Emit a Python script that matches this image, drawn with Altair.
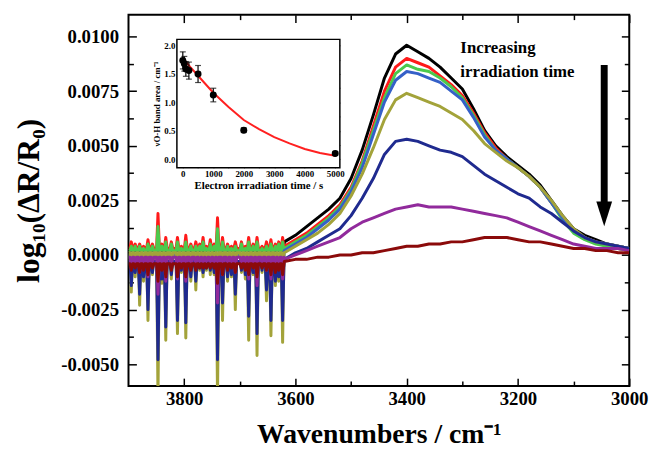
import altair as alt
import pandas as pd

# ---------------- data ----------------
series_names = ["t0", "t1", "t2", "t3", "t4", "t5", "t6", "t7"]
series_colors = ["#000000", "#ff1a1a", "#4cc94c", "#3560c8", "#a3a33a", "#1f2a8f", "#912a9c", "#8b0a0a"]

grid_wn = [3620, 3600, 3580, 3560, 3540, 3520, 3500, 3480, 3460, 3440, 3420, 3400,
           3380, 3360, 3340, 3320, 3300, 3280, 3260, 3240, 3220, 3200, 3180, 3160,
           3140, 3120, 3100, 3080, 3060, 3040, 3020, 3000]

black_band = [0.0006, 0.0009, 0.0013, 0.0017, 0.0021, 0.0026, 0.0035, 0.0048, 0.0064, 0.0081, 0.0092, 0.0096,
              0.0093, 0.0090, 0.0086, 0.0081, 0.0076, 0.0067, 0.0057, 0.0050, 0.0045, 0.0041, 0.0037, 0.0032,
              0.0025, 0.0018, 0.0012, 0.0009, 0.0007, 0.0005, 0.0004, 0.0003]
red_band = [0.0004, 0.0007, 0.0010, 0.0014, 0.0018, 0.0023, 0.0031, 0.0043, 0.0059, 0.0075, 0.0086, 0.0090,
            0.0088, 0.0086, 0.0082, 0.0078, 0.0073, 0.0065, 0.0056, 0.0049, 0.0044, 0.0040, 0.0036, 0.0031,
            0.0024, 0.0017, 0.0011, 0.0008, 0.0006, 0.0004, 0.0003, 0.0002]
green_band = [0.0003, 0.0006, 0.0009, 0.0013, 0.0017, 0.0022, 0.0030, 0.0042, 0.0057, 0.0072, 0.0083, 0.0087,
              0.0085, 0.0084, 0.0081, 0.0077, 0.0072, 0.0064, 0.0055, 0.0048, 0.0044, 0.0040, 0.0036, 0.0031,
              0.0024, 0.0016, 0.0010, 0.0007, 0.0005, 0.0004, 0.0003, 0.0002]
blue_band = [0.0002, 0.0005, 0.0008, 0.0012, 0.0016, 0.0021, 0.0029, 0.0040, 0.0055, 0.0070, 0.0080, 0.0084,
             0.0083, 0.0081, 0.0079, 0.0075, 0.0071, 0.0063, 0.0054, 0.0048, 0.0044, 0.0040, 0.0036, 0.0031,
             0.0024, 0.0017, 0.0011, 0.0008, 0.0006, 0.0005, 0.0004, 0.0003]
olive_band = [0.0001, 0.0004, 0.0007, 0.0010, 0.0014, 0.0019, 0.0027, 0.0037, 0.0049, 0.0062, 0.0071, 0.0074,
              0.0072, 0.0070, 0.0068, 0.0065, 0.0062, 0.0057, 0.0051, 0.0047, 0.0043, 0.0040, 0.0036, 0.0031,
              0.0025, 0.0018, 0.0012, 0.0008, 0.0006, 0.0005, 0.0004, 0.0003]
navy_band = [-0.0002, 0.0001, 0.0003, 0.0006, 0.0009, 0.0012, 0.0018, 0.0026, 0.0035, 0.0046, 0.0052, 0.0053,
             0.0052, 0.0050, 0.0048, 0.0047, 0.0045, 0.0041, 0.0037, 0.0034, 0.0031, 0.0028, 0.0026, 0.0022,
             0.0019, 0.0015, 0.0011, 0.0008, 0.0006, 0.0005, 0.0004, 0.0003]
purple_band = [-0.0002, 0.0000, 0.0002, 0.0004, 0.0006, 0.0008, 0.0012, 0.0015, 0.0017, 0.0019, 0.0021, 0.0022,
               0.0023, 0.0022, 0.0022, 0.0022, 0.0021, 0.0020, 0.0019, 0.0018, 0.0017, 0.0015, 0.0013, 0.0011,
               0.0009, 0.0007, 0.0005, 0.0004, 0.0003, 0.0003, 0.0003, 0.0002]
darkred_band = [-0.0003, -0.0002, -0.0002, -0.0001, -0.0001, 0.0000, 0.0000, 0.0001, 0.0001, 0.0002, 0.0003, 0.0004,
                0.0004, 0.0005, 0.0005, 0.0006, 0.0006, 0.0007, 0.0008, 0.0008, 0.0008, 0.0007, 0.0006, 0.0006,
                0.0005, 0.0004, 0.0003, 0.0003, 0.0002, 0.0002, 0.0001, 0.0001]

# water-vapour line region (3900-3620 cm-1): level between lines and value at each line
noise_start_wn = 3900
noise_base = [0.0002, 0.0003, 0.0002, 0.0000, 0.0001, -0.0003, -0.0001, -0.0004]

# strong lines
spike_wn = [3895, 3880, 3865, 3847, 3833, 3812, 3797, 3779, 3766, 3753, 3740, 3731, 3708, 3684, 3669, 3652, 3644, 3623]
black_spikes = [0.0003, 0.0003, 0.0003, 0.0004, 0.0003, 0.0003, 0.0003, 0.0003, 0.0003,
                0.0003, 0.0004, 0.0003, 0.0003, 0.0003, 0.0003, 0.0003, 0.0003, 0.0003]
red_spikes = [0.0006, 0.0005, 0.0007, 0.0019, 0.0008, 0.0008, 0.0009, 0.0006, 0.0008,
              0.0007, 0.0017, 0.0008, 0.0006, 0.0008, 0.0008, 0.0006, 0.0007, 0.0008]
green_spikes = [0.0004, 0.0004, 0.0005, 0.0013, 0.0006, 0.0006, 0.0006, 0.0004, 0.0006,
                0.0005, 0.0012, 0.0006, 0.0004, 0.0006, 0.0006, 0.0004, 0.0005, 0.0006]
blue_spikes = [-0.0010, -0.0013, -0.0018, -0.0036, -0.0025, -0.0022, -0.0023, -0.0009, -0.0006,
               -0.0005, -0.0036, -0.0016, -0.0013, -0.0021, -0.0027, -0.0012, -0.0022, -0.0022]
olive_spikes = [-0.0017, -0.0023, -0.0030, -0.0065, -0.0039, -0.0036, -0.0038, -0.0016, -0.0010,
                -0.0009, -0.0065, -0.0030, -0.0025, -0.0039, -0.0046, -0.0021, -0.0037, -0.0040]
navy_spikes = [-0.0014, -0.0018, -0.0025, -0.0048, -0.0033, -0.0030, -0.0031, -0.0012, -0.0008,
               -0.0007, -0.0048, -0.0022, -0.0018, -0.0028, -0.0036, -0.0016, -0.0030, -0.0030]
purple_spikes = [-0.0006, -0.0008, -0.0010, -0.0018, -0.0012, -0.0011, -0.0012, -0.0006, -0.0005,
                 -0.0004, -0.0022, -0.0009, -0.0008, -0.0011, -0.0014, -0.0007, -0.0011, -0.0011]
darkred_spikes = [-0.0007, -0.0008, -0.0009, -0.0012, -0.0010, -0.0010, -0.0010, -0.0007, -0.0006,
                  -0.0006, -0.0013, -0.0009, -0.0008, -0.0009, -0.0010, -0.0007, -0.0009, -0.0009]

# weak lines in between
weak_wn = [3888, 3873, 3857, 3840, 3823, 3805, 3788, 3772, 3760, 3746, 3722, 3715, 3697, 3690, 3676, 3660, 3636, 3630]
black_weak = [0.0003, 0.0003, 0.0003, 0.0003, 0.0003, 0.0003, 0.0003, 0.0003, 0.0003,
              0.0003, 0.0003, 0.0003, 0.0003, 0.0003, 0.0003, 0.0003, 0.0003, 0.0003]
red_weak = [0.0005, 0.0004, 0.0005, 0.0005, 0.0006, 0.0004, 0.0005, 0.0005, 0.0004,
            0.0005, 0.0005, 0.0004, 0.0006, 0.0004, 0.0005, 0.0004, 0.0005, 0.0006]
green_weak = [0.0004, 0.0003, 0.0004, 0.0004, 0.0005, 0.0003, 0.0004, 0.0004, 0.0003,
              0.0004, 0.0004, 0.0003, 0.0005, 0.0003, 0.0004, 0.0003, 0.0004, 0.0005]
blue_weak = [-0.0005, -0.0006, -0.0005, -0.0007, -0.0006, -0.0004, -0.0006, -0.0004, -0.0004,
             -0.0005, -0.0006, -0.0005, -0.0004, -0.0006, -0.0005, -0.0004, -0.0007, -0.0006]
olive_weak = [-0.0010, -0.0012, -0.0009, -0.0013, -0.0011, -0.0008, -0.0012, -0.0007, -0.0007,
              -0.0009, -0.0012, -0.0010, -0.0008, -0.0011, -0.0009, -0.0008, -0.0014, -0.0012]
navy_weak = [-0.0008, -0.0010, -0.0008, -0.0011, -0.0009, -0.0007, -0.0010, -0.0006, -0.0006,
             -0.0008, -0.0010, -0.0009, -0.0007, -0.0009, -0.0008, -0.0007, -0.0012, -0.0010]
purple_weak = [-0.0004, -0.0005, -0.0004, -0.0006, -0.0005, -0.0004, -0.0005, -0.0003, -0.0003,
               -0.0004, -0.0005, -0.0004, -0.0004, -0.0005, -0.0004, -0.0004, -0.0006, -0.0005]
darkred_weak = [-0.0006, -0.0007, -0.0006, -0.0007, -0.0007, -0.0006, -0.0007, -0.0006, -0.0006,
                -0.0006, -0.0007, -0.0006, -0.0006, -0.0007, -0.0006, -0.0006, -0.0008, -0.0007]

bands = [black_band, red_band, green_band, blue_band, olive_band, navy_band, purple_band, darkred_band]
spikes = [black_spikes, red_spikes, green_spikes, blue_spikes, olive_spikes, navy_spikes, purple_spikes, darkred_spikes]
weaks = [black_weak, red_weak, green_weak, blue_weak, olive_weak, navy_weak, purple_weak, darkred_weak]

# inset
inset_t = [0, 50, 100, 200, 500, 1000, 2000, 5000]
inset_area = [1.74, 1.68, 1.59, 1.56, 1.50, 1.13, 0.51, 0.10]
inset_err = [0.15, 0.13, 0.13, 0.15, 0.15, 0.12, 0.04, 0.03]
fit_t = [0, 250, 500, 750, 1000, 1500, 2000, 2500, 3000, 3500, 4000, 4500, 5000]
fit_area = [1.78, 1.62, 1.47, 1.32, 1.17, 0.92, 0.69, 0.53, 0.39, 0.28, 0.18, 0.11, 0.06]

x_ticks_major = [3800, 3600, 3400, 3200, 3000]
x_ticks_minor = [3700, 3500, 3300, 3100]
y_ticks_major = [-0.005, -0.0025, 0.0, 0.0025, 0.005, 0.0075, 0.01]
y_ticks_minor = [-0.00375, -0.00125, 0.00125, 0.00375, 0.00625, 0.00875]
inset_x_ticks = [0, 500, 1000, 1500, 2000, 2500, 3000, 3500, 4000, 4500, 5000]
inset_y_ticks = [0.0, 0.25, 0.5, 0.75, 1.0, 1.25, 1.5, 1.75, 2.0]

# ---------------- layout / style ----------------
W, H = 507, 376
X_DOMAIN = [3000, 3900]
Y_DOMAIN = [-0.006, 0.011]
INSET_X_DOMAIN = [-194, 5152]
INSET_Y_DOMAIN = [-0.151, 2.11]
INSET_X_RANGE = [49, 214]
INSET_Y_RANGE = [155, 25]
SPIKE_HW = 2.5
FONT = "Liberation Serif"

for b in bands:
    assert len(b) == len(grid_wn)
for s in spikes:
    assert len(s) == len(spike_wn)
for s in weaks:
    assert len(s) == len(weak_wn)

xs = alt.Scale(domain=X_DOMAIN, reverse=True, nice=False, zero=False)
ys = alt.Scale(domain=Y_DOMAIN, nice=False, zero=False)
ixs = alt.Scale(domain=INSET_X_DOMAIN, range=INSET_X_RANGE, nice=False, zero=False)
iys = alt.Scale(domain=INSET_Y_DOMAIN, range=INSET_Y_RANGE, nice=False, zero=False)

MINUS_FIX = "replace(format(datum.value, '.4f'), '\u2212', '-')"

common = dict(domain=False, grid=False, tickColor="black", tickWidth=1.5,
              labelColor="black", labelFont=FONT, labelFontWeight="bold")

ax_b_major = alt.Axis(orient="bottom", values=x_ticks_major, format="d", tickSize=8, offset=-8,
                      labelFontSize=19, labelPadding=4, labelFlush=False,
                      title="Wavenumbers / cm\u207b\u00b9", titleFont=FONT, titleFontSize=28,
                      titleFontWeight="bold", titleColor="black", titlePadding=12, **common)
ax_b_minor = alt.Axis(orient="bottom", values=x_ticks_minor, tickSize=5, offset=-5, labels=False,
                      title=None, **common)
ax_t_major = alt.Axis(orient="top", values=x_ticks_major, tickSize=8, offset=-8, labels=False,
                      title=None, **common)
ax_t_minor = alt.Axis(orient="top", values=x_ticks_minor, tickSize=5, offset=-5, labels=False,
                      title=None, **common)
ax_l_major = alt.Axis(orient="left", values=y_ticks_major, labelExpr=MINUS_FIX, tickSize=8, offset=-8,
                      labelFontSize=19, labelPadding=10, labelFlush=False,
                      title="log\u2081\u2080(\u0394R/R\u2080)", titleFont=FONT, titleFontSize=32,
                      titleFontWeight="bold", titleColor="black", titlePadding=16, **common)
ax_l_minor = alt.Axis(orient="left", values=y_ticks_minor, tickSize=5, offset=-5, labels=False,
                      title=None, **common)
ax_r_major = alt.Axis(orient="right", values=y_ticks_major, tickSize=8, offset=-8, labels=False,
                      title=None, **common)
ax_r_minor = alt.Axis(orient="right", values=y_ticks_minor, tickSize=5, offset=-5, labels=False,
                      title=None, **common)

axes_for_layer = [(ax_b_major, ax_l_major), (ax_b_minor, ax_l_minor),
                  (ax_t_major, ax_r_major), (ax_t_minor, ax_r_minor)]

# ---------------- spectra ----------------
layers = []
for i, name in enumerate(series_names):
    base = noise_base[i]
    lines = sorted(list(zip(spike_wn, spikes[i])) + list(zip(weak_wn, weaks[i])), reverse=True)
    pts = [(noise_start_wn, base)]
    for p, d in lines:
        pts += [(p + SPIKE_HW, base), (p, d), (p - SPIKE_HW, base)]
    pts += list(zip(grid_wn, bands[i]))
    df = pd.DataFrame({"wn": [p[0] for p in pts], "val": [p[1] for p in pts],
                       "idx": list(range(len(pts)))})
    if i < len(axes_for_layer):
        axx, axy = axes_for_layer[i]
    else:
        axx, axy = None, None
    layers.append(
        alt.Chart(df).mark_line(color=series_colors[i], strokeWidth=3, strokeJoin="round", clip=True)
        .encode(x=alt.X("wn:Q", scale=xs, axis=axx),
                y=alt.Y("val:Q", scale=ys, axis=axy),
                order="idx:Q")
    )

# ---------------- arrow + annotation ----------------
arrow_wn = 3045
arrow_top = 0.0087
arrow_shaft_bottom = 0.0024
arrow_head_mid = 0.00188
arrow_df = pd.DataFrame({"wn": [arrow_wn], "top": [arrow_top], "bot": [arrow_shaft_bottom],
                         "head": [arrow_head_mid]})
shaft = alt.Chart(arrow_df).mark_rule(color="black", strokeWidth=7, strokeCap="butt").encode(
    x=alt.X("wn:Q", scale=xs, axis=None), y=alt.Y("top:Q", scale=ys, axis=None), y2="bot:Q")
head = alt.Chart(arrow_df).mark_point(shape="M -0.8 -1.25 L 0.8 -1.25 L 0 1.25 Z", filled=True,
                                      size=400, color="black", opacity=1, strokeWidth=0).encode(
    x=alt.X("wn:Q", scale=xs, axis=None), y=alt.Y("head:Q", scale=ys, axis=None))
label = alt.Chart(pd.DataFrame({"a": [0]})).mark_text(
    text=["Increasing", "irradiation time"], align="left", baseline="alphabetic", lineHeight=24,
    font=FONT, fontSize=17, fontWeight="bold", color="black").encode(
    x=alt.value(336), y=alt.value(39))

# ---------------- inset ----------------
small = dict(domain=False, grid=False, tickColor="black", tickWidth=1, tickSize=3,
             labelColor="black", labelFont=FONT, labelFontWeight="bold", labelFontSize=9)
ia_bottom = alt.Axis(orient="bottom", values=inset_x_ticks, offset=-224, labelPadding=2, labelFlush=False,
                     labelExpr="datum.value % 1000 === 0 ? format(datum.value, 'd') : ''",
                     title="Electron irradiation time / s", titleFont=FONT, titleFontSize=11,
                     titleFontWeight="bold", titleColor="black", titlePadding=1, **small)
ia_left = alt.Axis(orient="left", values=inset_y_ticks, offset=-52, labelPadding=2, labelFlush=False,
                   labelExpr="datum.value % 0.5 === 0 ? format(datum.value, '.1f') : ''",
                   title="\u03bdO-H band area / cm\u207b\u00b9", titleFont=FONT, titleFontSize=9,
                   titleFontWeight="bold", titleColor="black", titlePadding=2, **small)
ia_top = alt.Axis(orient="top", values=inset_x_ticks, offset=-28, labels=False, title=None, **small)
ia_right = alt.Axis(orient="right", values=inset_y_ticks, offset=-296, labels=False, title=None, **small)

frame_df = pd.DataFrame({"x": [INSET_X_DOMAIN[0]], "x2": [INSET_X_DOMAIN[1]],
                         "y": [INSET_Y_DOMAIN[0]], "y2": [INSET_Y_DOMAIN[1]]})
frame = alt.Chart(frame_df).mark_rect(fill="white", stroke="black", strokeWidth=1.5).encode(
    x=alt.X("x:Q", scale=ixs, axis=ia_bottom), x2="x2:Q",
    y=alt.Y("y:Q", scale=iys, axis=ia_left), y2="y2:Q")

fit_df = pd.DataFrame({"t": fit_t, "a": fit_area})
fit = alt.Chart(fit_df).mark_line(color="#ff2020", strokeWidth=2).encode(
    x=alt.X("t:Q", scale=ixs, axis=ia_top), y=alt.Y("a:Q", scale=iys, axis=ia_right))

pts_df = pd.DataFrame({"t": inset_t, "a": inset_area,
                       "lo": [a - e for a, e in zip(inset_area, inset_err)],
                       "hi": [a + e for a, e in zip(inset_area, inset_err)]})
ebar = alt.Chart(pts_df).mark_rule(color="black", strokeWidth=1.2).encode(
    x=alt.X("t:Q", scale=ixs, axis=None), y=alt.Y("lo:Q", scale=iys, axis=None), y2="hi:Q")
cap_lo = alt.Chart(pts_df).mark_tick(orient="horizontal", size=6, thickness=1.2, color="black").encode(
    x=alt.X("t:Q", scale=ixs, axis=None), y=alt.Y("lo:Q", scale=iys, axis=None))
cap_hi = alt.Chart(pts_df).mark_tick(orient="horizontal", size=6, thickness=1.2, color="black").encode(
    x=alt.X("t:Q", scale=ixs, axis=None), y=alt.Y("hi:Q", scale=iys, axis=None))
dots = alt.Chart(pts_df).mark_point(filled=True, size=50, color="black", opacity=1).encode(
    x=alt.X("t:Q", scale=ixs, axis=None), y=alt.Y("a:Q", scale=iys, axis=None))

chart = alt.layer(*layers, shaft, head, label, frame, fit, ebar, cap_lo, cap_hi, dots).resolve_scale(
    x="independent", y="independent"
).properties(
    width=W, height=H,
    autosize=alt.AutoSizeParams(type="none"),
    padding={"left": 122, "top": 4, "right": 20, "bottom": 64},
    background="white",
).configure_view(stroke="black", strokeWidth=2)

chart.save("out.html", embed_options={"renderer": "svg", "actions": False})
